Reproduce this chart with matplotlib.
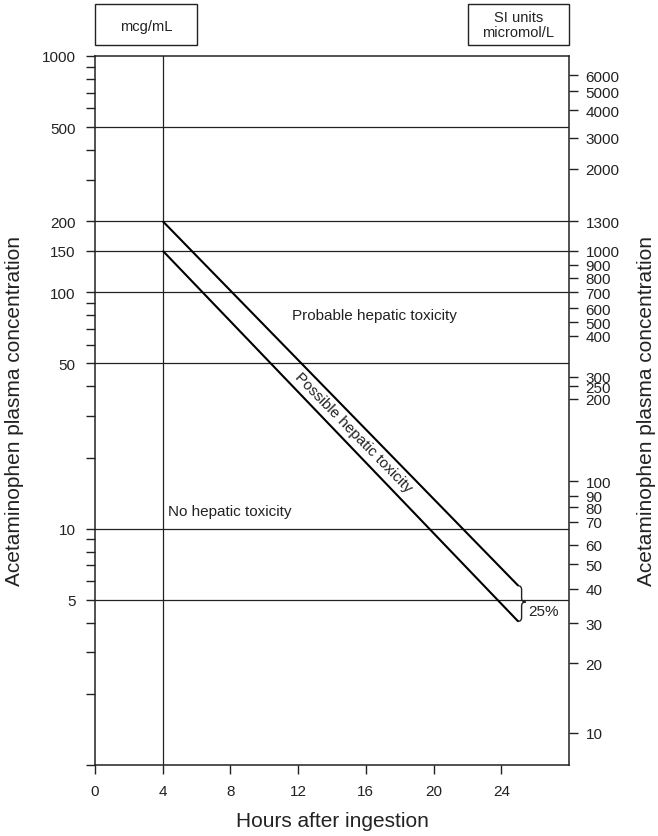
import numpy as np
import matplotlib.pyplot as plt
from matplotlib.patches import Rectangle, PathPatch
from matplotlib.path import Path

plt.rcParams['font.family'] = ['Liberation Sans', 'DejaVu Sans']

# Left axis (mcg/mL)
left_major = [1000, 500, 200, 150, 100, 50, 10, 5]
left_minor = [900, 800, 700, 600, 400, 300, 90, 80, 70, 60, 40, 30, 20,
              9, 8, 7, 6, 4, 3, 2, 1]
grid_levels = [500, 200, 150, 100, 50, 10, 5]

# Right axis (micromol/L) - labels and where they sit on the mcg/mL scale
si_labels = ['6000', '5000', '4000', '3000', '2000', '1300', '1000', '900',
             '800', '700', '600', '500', '400', '300', '250', '200', '100',
             '90', '80', '70', '60', '50', '40', '30', '20', '10']
si_pos = [830, 711, 590, 450, 333, 200, 150, 131, 115, 100, 85.5, 74.8,
          65.4, 44.0, 40.0, 35.5, 15.9, 13.8, 12.3, 10.7, 8.54, 7.07, 5.58,
          3.97, 2.70, 1.37]

hour_ticks = [0, 4, 8, 12, 16, 20, 24]

# nomogram lines
line_hours = [4, 25]
upper_conc = [200, 5.74]
lower_conc = [150, 4.05]

dark = '#222222'

fig = plt.figure(figsize=(6.58, 8.37), dpi=100)
ax = fig.add_axes([95/658, 1 - 766/837, 474/658, 709/837])
ax.set_yscale('log')
ax.set_xlim(0, 28)
ax.set_ylim(1, 1000)

for s in ax.spines.values():
    s.set_color(dark)
    s.set_linewidth(1.1)

ax.set_xticks(hour_ticks)
ax.set_xticklabels([str(h) for h in hour_ticks])
ax.set_yticks(left_major)
ax.set_yticklabels([str(v) for v in left_major])
ax.set_yticks(left_minor, minor=True)
ax.yaxis.set_minor_formatter(plt.NullFormatter())
ax.tick_params(axis='both', which='both', direction='out', length=6.5,
               width=1.0, color=dark, labelsize=11, labelcolor=dark)
ax.tick_params(axis='y', which='both', pad=7.5)
ax.tick_params(axis='x', which='both', pad=7)

for lvl in grid_levels:
    ax.axhline(lvl, color=dark, lw=0.9)
ax.axvline(4, color=dark, lw=0.9)

ax.plot(line_hours, upper_conc, color='black', lw=1.5, solid_capstyle='butt')
ax.plot(line_hours, lower_conc, color='black', lw=1.5, solid_capstyle='butt')

ax2 = ax.twinx()
ax2.set_yscale('log')
ax2.set_ylim(1, 1000)
ax2.set_yticks(si_pos)
ax2.set_yticklabels(si_labels)
ax2.yaxis.set_minor_locator(plt.NullLocator())
ax2.tick_params(axis='y', direction='out', length=6.5, width=1.0, color=dark,
                labelsize=11, labelcolor=dark, pad=5.5)
for s in ax2.spines.values():
    s.set_visible(False)

ax.set_xlabel('Hours after ingestion', fontsize=15, color=dark, va='center')
ax.xaxis.set_label_coords(0.5, (766 - 822) / 709)
ax.set_ylabel('Acetaminophen plasma concentration', fontsize=15, color=dark,
              va='center')
ax.yaxis.set_label_coords((15 - 95) / 474, 0.5)
ax2.set_ylabel('Acetaminophen plasma concentration', fontsize=15, color=dark,
               va='center', rotation=90)
ax2.yaxis.set_label_coords((646 - 95) / 474, 0.5)

# region labels
ax.text(11.66, 80, 'Probable hepatic toxicity', fontsize=11, color=dark,
        ha='left', va='center')
ax.text(4.33, 11.9, 'No hepatic toxicity', fontsize=11, color=dark,
        ha='left', va='center')
p1 = ax.transData.transform((line_hours[0], upper_conc[0]))
p2 = ax.transData.transform((line_hours[1], upper_conc[1]))
ang = np.degrees(np.arctan2(p2[1] - p1[1], p2[0] - p1[0]))
ax.text(15.23, 25.8, 'Possible hepatic toxicity', fontsize=11, color=dark,
        ha='center', va='center', rotation=ang, rotation_mode='anchor')

# brace showing the 25% band
bx = 25.2
top = ax.transData.transform((bx, upper_conc[1]))
bot = ax.transData.transform((bx, lower_conc[1]))
x0, yt, yb = top[0], top[1], bot[1]
ym = (yt + yb) / 2 + 1.5
w = 4
pts = [(x0 - w, yt), (x0, yt), (x0, yt - w), (x0, ym + w), (x0, ym),
       (x0 + w, ym), (x0, ym), (x0, ym - w), (x0, yb + w), (x0, yb),
       (x0 - w, yb)]
codes = [Path.MOVETO, Path.CURVE3, Path.CURVE3, Path.LINETO, Path.CURVE3,
         Path.CURVE3, Path.CURVE3, Path.CURVE3, Path.LINETO, Path.CURVE3,
         Path.CURVE3]
pts_ax = ax.transAxes.inverted().transform(pts)
ax.add_patch(PathPatch(Path(pts_ax, codes), transform=ax.transAxes,
                       fill=False, edgecolor=dark, lw=1.0, clip_on=False))
ax.text(25.6, 4.5, '25%', fontsize=11, color=dark, ha='left', va='center')

# unit boxes above the axes
fig.add_artist(Rectangle((95/658, 1 - 46/837), 102/658, 41/837,
                         transform=fig.transFigure, fill=False,
                         edgecolor=dark, lw=1.0))
fig.text(146/658, 1 - 27/837, 'mcg/mL', fontsize=10.5, color=dark,
         ha='center', va='center')
fig.add_artist(Rectangle((468/658, 1 - 46/837), 101/658, 41/837,
                         transform=fig.transFigure, fill=False,
                         edgecolor=dark, lw=1.0))
fig.text(518.5/658, 1 - 25.5/837, 'SI units\nmicromol/L', fontsize=10.5,
         color=dark, ha='center', va='center', linespacing=1.15)

plt.savefig('out.png', dpi=100)
